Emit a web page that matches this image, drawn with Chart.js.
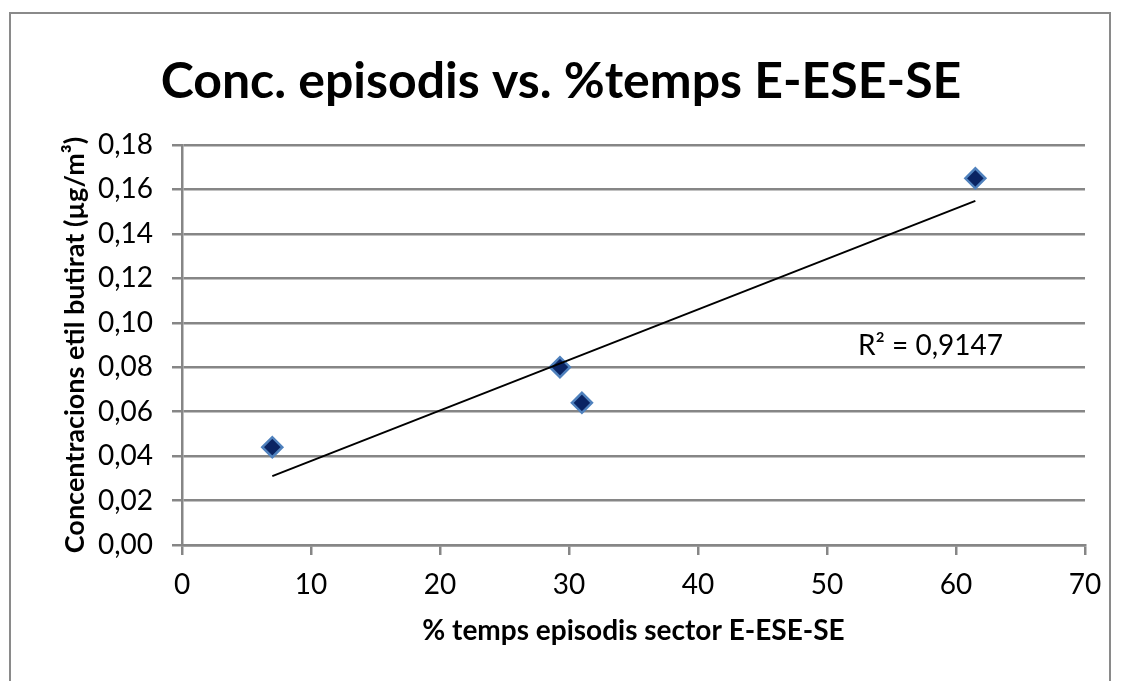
<!DOCTYPE html>
<html>
<head>
<meta charset="utf-8">
<script src="https://cdn.jsdelivr.net/npm/chart.js@4.4.1/dist/chart.umd.min.js"></script>
<style>
  html, body { margin: 0; padding: 0; background: #fff; overflow: hidden; }
  #wrap { position: relative; width: 1122px; height: 681px; }
  #frame { position: absolute; left: 9px; top: 12px; width: 1102px; height: 720px; border: 2px solid #8a8a8a; box-sizing: border-box; }
  #episodisChart { position: absolute; left: 0; top: 0; }
</style>
</head>
<body>
<div id="wrap">
  <div id="frame"></div>
  <canvas id="episodisChart" width="1122" height="681"></canvas>
</div>
<script>
// % temps d'episodis al sector E-ESE-SE i concentracio d'etil butirat
const tempsSector = [7.0, 29.3, 31.0, 61.5]
const concEtilButirat = [0.044, 0.080, 0.064, 0.165]
const r2Label = 'R² = 0,9147'

const chartTitle = 'Conc. episodis vs. %temps E-ESE-SE'
const xTitle = '% temps episodis sector E-ESE-SE'
const yTitle = 'Concentracions etil butirat (µg/m³)'

const FONT = 'Lato, "Open Sans", sans-serif'
const GRID = '#868686'

const punts = tempsSector.map((x, i) => ({ x: x, y: concEtilButirat[i] }))

// recta de regressio lineal (minims quadrats) entre el minim i el maxim de x
const tendencia = () => {
    const n = punts.length
    const mx = punts.reduce((s, p) => s + p.x, 0) / n
    const my = punts.reduce((s, p) => s + p.y, 0) / n
    let sxy = 0, sxx = 0
    punts.forEach(p => { sxy += (p.x - mx) * (p.y - my); sxx += (p.x - mx) ** 2 })
    const b = sxy / sxx
    const a = my - b * mx
    const x0 = Math.min(...tempsSector)
    const x1 = Math.max(...tempsSector)
    return [{ x: x0, y: a + b * x0 }, { x: x1, y: a + b * x1 }]
}

// etiqueta R² a la dreta de la recta
const r2Plugin = {
    id: 'r2Plugin',
    afterDatasetsDraw(chart) {
        const { ctx, scales } = chart
        ctx.save()
        ctx.font = `28px ${FONT}`
        ctx.fillStyle = '#000'
        ctx.textAlign = 'left'
        ctx.textBaseline = 'middle'
        ctx.fillText(r2Label, scales.x.getPixelForValue(52.4), scales.y.getPixelForValue(0.0895))
        ctx.restore()
    }
}

const ctx = document.getElementById('episodisChart').getContext('2d')

const episodisChart = new Chart(ctx, {
    type: 'scatter',
    data: {
        datasets: [
            {
                label: 'Episodis',
                data: punts,
                pointStyle: 'rectRot',
                pointRadius: 10,
                pointHoverRadius: 10,
                backgroundColor: '#0a2463',
                borderColor: '#4f81bd',
                borderWidth: 2.5,
                order: 1
            },
            {
                label: 'Lineal',
                type: 'line',
                data: tendencia(),
                borderColor: '#000',
                borderWidth: 2,
                pointRadius: 0,
                fill: false,
                order: 0
            }
        ]
    },
    options: {
        responsive: false,
        animation: false,
        layout: { padding: { left: 37, right: 37, top: 0, bottom: 26 } },
        plugins: {
            legend: { display: false },
            tooltip: { enabled: false },
            title: {
                display: true,
                text: chartTitle,
                color: '#000',
                font: { family: FONT, size: 50, weight: 'bold', lineHeight: 1.2 },
                padding: { top: 52, bottom: 33 }
            }
        },
        scales: {
            x: {
                type: 'linear',
                min: 0,
                max: 70,
                ticks: { stepSize: 10, color: '#000', padding: 13, font: { family: FONT, size: 28 } },
                grid: { drawOnChartArea: false, drawTicks: true, tickLength: 10, color: GRID, lineWidth: 2.5 },
                border: { color: GRID, width: 2.5 },
                title: {
                    display: true,
                    text: xTitle,
                    color: '#000',
                    font: { family: FONT, size: 28, weight: 'bold', lineHeight: 1.2 },
                    padding: { top: 0, bottom: 7 }
                },
                afterFit: (scale) => { scale.height = 110 }
            },
            y: {
                type: 'linear',
                min: 0,
                max: 0.18,
                ticks: {
                    stepSize: 0.02,
                    color: '#000',
                    padding: 19,
                    font: { family: FONT, size: 28 },
                    callback: (v) => v.toFixed(2).replace('.', ',')
                },
                grid: { color: GRID, lineWidth: 2.5, tickLength: 10 },
                border: { color: GRID, width: 2.5 },
                title: {
                    display: true,
                    text: yTitle,
                    color: '#000',
                    font: { family: FONT, size: 27, weight: 'bold', lineHeight: 1.2 },
                    padding: { top: 22, bottom: 0 }
                },
                afterFit: (scale) => { scale.width = 145 }
            }
        }
    },
    plugins: [r2Plugin]
})
</script>
</body>
</html>
